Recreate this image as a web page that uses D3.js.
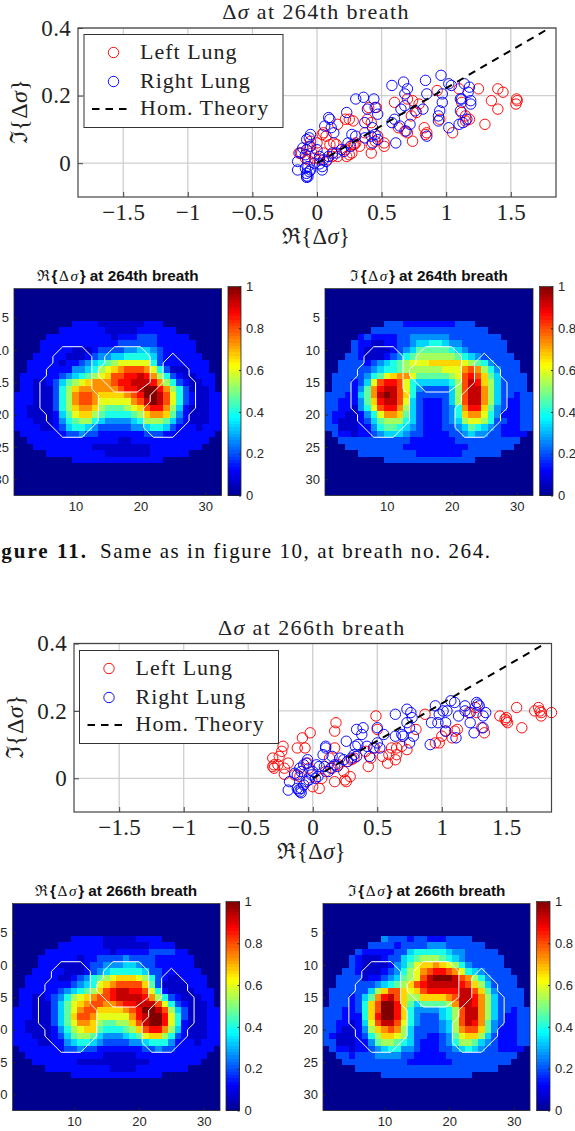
<!DOCTYPE html>
<html><head><meta charset="utf-8">
<script src="https://cdn.jsdelivr.net/npm/d3@7"></script>
<style>html,body{margin:0;padding:0;background:#fff;overflow:hidden}svg{display:block}</style>
</head><body><div id="c"></div>
<script>
const xTicks=[-1.5,-1,-0.5,0,0.5,1,1.5], yTicks=[0,0.2,0.4];
const homTheory=[[0,0],[1.8,0.4]];
const legendLabels=["Left Lung","Right Lung","Hom. Theory"];
const left264=[[1.25,.22],[1.4,.22],[1.44,.21],[1.35,.185],[1.4,.16],[1.55,.185],[1.54,.175],[1.545,.19],[1.3,.115],[1.05,.09],[.93,.215],[1.1,.22],[1.12,.18],[1.12,.15],[1.15,.14],[1.18,.13],[1.15,.125],[.95,.13],[.83,.105],[.84,.085],[.85,.09],[.74,.065],[.7,.09],[.68,.095],[.63,.105],[.6,.18],[.7,.19],[.74,.185],[.79,.175],[.77,.15],[.73,.14],[.52,.05],[.52,.06],[.42,.03],[.42,.055],[.46,.165],[.4,.165],[.39,.13],[.42,.12],[.37,.09],[.28,.125],[.25,.13],[.22,.13],[.16,.115],[.29,.055],[.3,.06],[.27,.03],[.25,.025],[.23,.02],[.22,.04],[.16,.02],[.13,.06],[.1,.055],[.07,.08],[.05,.09],[.04,.085],[.12,.02],[.05,.03],[.02,.01],[-.02,.015],[-.04,.03],[-.05,.065],[-.06,.05],[-.09,.015],[-.12,.03],[-.14,.03],[-.07,.01],[0,.06],[.08,.01],[.15,.055],[.45,.065],[.47,.08],[.28,.055],[.33,.05]];
const right264=[[.96,.26],[.84,.245],[1.02,.235],[1.04,.23],[1.14,.235],[1.18,.225],[1.17,.21],[1.12,.19],[1.11,.19],[.67,.24],[.58,.23],[.7,.22],[.68,.205],[.85,.205],[.97,.205],[1.19,.185],[1.19,.175],[.97,.18],[.95,.155],[.94,.14],[.94,.125],[1.02,.105],[1.11,.155],[1.13,.12],[1.16,.13],[1.1,.115],[.82,.16],[.76,.155],[.65,.16],[.68,.17],[.58,.12],[.6,.13],[.64,.11],[.72,.115],[.69,.095],[.61,.06],[.85,.08],[.3,.19],[.36,.195],[.44,.19],[.45,.165],[.39,.16],[.47,.145],[.37,.12],[.43,.105],[.23,.15],[.09,.135],[.1,.13],[.06,.11],[.11,.105],[.13,.09],[.27,.085],[.3,.08],[.42,.08],[.45,.085],[.47,.07],[.43,.06],[.37,.075],[.26,.05],[.24,.06],[.21,.035],[.12,.03],[.15,.03],[.09,.02],[.05,.01],[.07,.005],[.02,-.002],[-.05,.085],[-.06,.075],[-.08,.07],[-.05,.05],[-.08,.04],[-.11,.045],[-.13,.03],[-.09,.025],[-.15,.005],[-.15,-.02],[-.09,-.015],[-.07,-.01],[-.06,-.025],[-.08,-.03],[-.08,-.038],[-.08,-.042],[-.07,-.04],[-.05,-.02],[-.02,0],[.04,-.01],[.04,-.02],[0,.04],[.02,.02],[.19,.04]];
const left266=[[1.85,.195],[1.75,.21],[1.76,.2],[1.72,.2],[1.77,.195],[1.77,.185],[1.58,.21],[1.62,.15],[1.45,.185],[1.49,.175],[1.5,.18],[1.51,.165],[1.5,.17],[1.33,.135],[1.31,.15],[1.27,.195],[1.26,.21],[1.21,.195],[1.12,.145],[1.08,.12],[1.1,.14],[1,.125],[1.03,.14],[.95,.105],[.98,.105],[.87,.19],[.8,.145],[.73,.085],[.69,.095],[.65,.09],[.65,.07],[.64,.055],[.58,.045],[.59,.07],[.61,.09],[.54,.065],[.49,.185],[.5,.145],[.48,.09],[.41,.08],[.45,.06],[.43,.035],[.18,.165],[.17,.14],[.17,.09],[.17,-.01],[.24,.02],[.25,-.005],[.26,-.01],[.29,.005],[.27,.05],[.05,-.03],[0,-.025],[-.02,.135],[-.08,.12],[-.06,.09],[-.12,.09],[-.23,.095],[-.24,.08],[-.26,.065],[-.31,.06],[-.3,.04],[-.31,.035],[-.3,.03],[-.27,.04],[-.19,.045],[-.22,.03],[-.22,.012],[-.14,.01],[-.1,.005],[-.03,.03],[-.04,.045],[.1,.02],[.15,.03],[.2,.04],[.32,.06],[.3,.055],[.13,.06],[.07,0]];
const right266=[[1.07,.23],[.95,.215],[1.1,.225],[1.18,.215],[1.27,.225],[1.28,.22],[1.29,.215],[1.01,.2],[1.04,.2],[.98,.19],[1.18,.2],[1.13,.185],[1.22,.195],[1.34,.195],[1.32,.185],[1.22,.165],[1.03,.165],[.92,.165],[.97,.165],[1.32,.15],[1.25,.135],[1.11,.12],[1.03,.14],[.91,.1],[.64,.19],[.73,.205],[.76,.195],[.77,.18],[.73,.165],[.75,.15],[.5,.15],[.39,.15],[.34,.145],[.38,.13],[.55,.13],[.64,.125],[.69,.13],[.7,.125],[.78,.125],[.75,.105],[.26,.11],[.35,.1],[.33,.095],[.42,.095],[.5,.105],[.47,.09],[.52,.09],[.44,.065],[.1,.095],[.1,.09],[.08,.07],[.15,.065],[.21,.06],[.24,.055],[.27,.05],[.32,.07],[.34,.065],[.3,.06],[.17,.04],[.19,.035],[.14,.03],[.12,.02],[.09,.035],[.05,.035],[.03,.04],[-.04,.055],[-.05,.045],[-.07,.04],[-.1,.03],[-.09,.02],[-.14,.015],[-.12,.01],[-.18,-.01],[-.19,-.035],[-.12,-.03],[-.11,-.035],[-.1,-.04],[-.09,-.03],[-.07,-.02],[-.05,-.01],[-.03,-.005],[.02,0],[.04,.005],[0,.02],[-.01,.01],[-.09,-.043]];
// heat-map cells, rows 6..27, columns 1..32; each hex digit is a value in fifteenths of 1
const firstRow=6;
const re264=[
"00000 00002 22211 11111 22200 00000 00","00000 00222 22221 11112 22222 00000 00","00000 22222 22222 12223 33222 22000 00","00002 22222 22222 23333 33222 22200 00",
"00002 22221 11233 33445 54322 22200 00","00022 22211 12344 55666 65322 22220 00","00222 22122 34567 89999 96322 22222 00","00222 22224 45689 abccc b9631 11222 00",
"02222 22345 6789a ccdde db863 21122 20","02211 23578 9abbb cddee edb86 32112 20","02211 1368a bbbbb bcdde ffdb8 63111 20","22211 1368b ccbaa aabcd ffec9 63211 22",
"22211 1368b ccb99 999bc efec9 63211 22","22111 1368a bba87 7789a cddb8 52111 22","22111 12579 aa876 66678 abba7 42111 22","22211 12467 88654 44456 88875 32111 22",
"22221 12356 65433 33344 56653 22212 22","02222 22233 43322 22222 33322 22222 20","00222 22222 22222 21122 22222 22222 00","00022 22222 22111 11111 12222 22220 00",
"00000 22222 22221 11111 12222 22000 00","00000 00002 22222 22222 22200 00000 00"];
const im264=[
"00000 00003 33222 22222 33300 00000 00","00000 00333 33333 33333 33333 00000 00","00000 23222 23344 44443 33333 33000 00","00003 22112 23345 56654 43333 33300 00",
"00003 21111 23457 77776 54333 33300 00","00033 21112 34678 88888 76543 33330 00","00333 32345 67899 9aaaa a9876 43333 00","00333 33456 67888 88899 9bcb8 64333 00",
"03333 34679 abb97 77778 9cdca 75333 30","03332 359cd dc965 55556 8ceda 85333 30","03332 47bde ec964 33335 8ceeb 85333 30","33322 57bef eca63 33335 8ceeb 85332 33",
"33222 47ade ec953 22235 8ceeb 85322 33","33221 469cd db853 22234 6bdda 74322 33","32211 2469b ba753 22234 6abb9 64222 33","32111 23578 88653 22234 58998 63322 33",
"33111 22467 76543 22233 45765 43222 33","03221 22345 55433 22223 34544 33222 20","00333 33333 33322 22222 33333 33333 00","00033 33333 33222 22222 22333 33330 00",
"00000 33333 33332 22222 23333 33000 00","00000 00003 33333 33333 33300 00000 00"];
const re266=[
"00000 00002 22221 11112 22200 00000 00","00000 00222 22221 11111 12222 00000 00","00000 22222 22222 12222 23333 22000 00","00002 22222 12233 33433 33222 22200 00",
"00002 22111 12334 44554 33222 22200 00","00022 22211 12345 66666 53322 22220 00","00222 22112 34678 9aaa9 86321 12222 00","00222 22223 4569a bcccc a7311 11222 00",
"02222 22345 678ac deedd c9621 11122 20","02211 23468 9abcc deeee db863 21112 20","02211 13579 abccb bcdde eec96 32111 20","22211 13579 bccaa aabcd ffec8 53111 22",
"22211 1357a ccb99 999bd effd9 63111 22","22111 13579 bba87 788ac effd9 62111 22","22111 12468 9aa76 6678a cddb8 52111 22","22211 12357 88754 44567 9aa86 32111 22",
"22221 12245 66543 33344 56664 22212 22","02222 22233 43322 22222 33433 22222 20","00222 22222 22221 11112 22222 22222 00","00022 22222 11111 11111 12222 22220 00",
"00000 22222 22222 11112 22222 22000 00","00000 00002 22222 22222 22200 00000 00"];
const im266=[
"00000 00004 33323 32223 33300 00000 00","00000 00333 32333 34443 33333 00000 00","00000 32222 23356 66665 44333 33000 00","00003 21112 33567 88876 54333 33300 00",
"00003 21111 24579 aaba9 86433 33300 00","00033 21112 34689 bcddc b9654 33330 00","00333 31223 45789 cefff ecb86 43333 00","00333 33345 678ac deeee edca8 53333 00",
"03333 3358a cca9a cdddd deeca 74333 30","03332 357bd eca88 aaaab ceedb 85333 30","03332 36acf fda75 77778 beedb 85333 30","33322 36acf fda64 44456 8ceeb 85332 33",
"33322 26adf fda64 33356 8ceeb 85322 33","33221 259ce ec964 33345 8cedb 74322 33","33211 248ab cb853 33345 8bcca 74222 33","32111 2368a a9853 32234 79aa8 53222 33",
"33111 22478 87653 22234 68875 43222 33","03221 22345 66443 22233 45654 33222 20","00332 33344 44332 22223 33333 33333 00","00033 33333 33322 22222 33333 33330 00",
"00000 33333 33333 33333 33333 33000 00","00000 00003 33333 33333 33300 00000 00"];
const lungLeft=[[8,9.5],[11,9.5],[12.5,11],[12.5,16],[13.5,17],[13.5,21],[11,23.5],[8,23.5],[5.5,21],[5.5,20],[4.5,19],[4.5,15],[5.5,14],[5.5,13],[6.5,12],[6.5,11]];
const lungMid=[[16,9.5],[20,9.5],[21.5,11],[21.5,15],[19.5,16.5],[16,16.5],[13.5,14],[13.5,13],[14.5,12],[14.5,11]];
const lungRight=[[25,10.5],[27.5,13],[27.5,14],[28.5,15],[28.5,19],[27.5,20],[27.5,21],[25,23.5],[22,23.5],[20.5,22],[20.5,19],[21.5,18],[21.5,17],[23.5,15],[23.5,12]];
const heatTicksY=[5,10,15,20,25,30], heatTicksX=[10,20,30], cbTicks=[0,.2,.4,.6,.8,1];

const W=575,H=1131;
const svg=d3.select("#c").append("svg").attr("width",W).attr("height",H);
const SERIF="'Liberation Serif','DejaVu Serif',serif", SANS="'Liberation Sans',Arial,sans-serif";
const jet=d3.scaleLinear().domain([0,.125,.375,.625,.875,1]).range(["#00008f","#0000ff","#00ffff","#ffff00","#ff0000","#800000"]).clamp(true);
const fmt=v=>String(v).replace("-","\u2212");
const R=5.2;

function scatter(o){
  const g=svg.append("g");
  const x=d3.scaleLinear().domain([-1.85,1.85]).range([o.l,o.r]);
  const y=d3.scaleLinear().domain([-.1,.4]).range([o.b,o.t]);
  const grid=g.append("g").attr("stroke","#cfcfcf").attr("stroke-width",1.3);
  xTicks.forEach(v=>grid.append("line").attr("x1",x(v)).attr("x2",x(v)).attr("y1",o.t).attr("y2",o.b));
  yTicks.forEach(v=>grid.append("line").attr("y1",y(v)).attr("y2",y(v)).attr("x1",o.l).attr("x2",o.r));
  const ax=g.append("g").attr("transform",`translate(0,${o.b})`).call(d3.axisBottom(x).tickValues(xTicks).tickSize(-5).tickPadding(7).tickFormat(fmt));
  const ay=g.append("g").attr("transform",`translate(${o.l},0)`).call(d3.axisLeft(y).tickValues(yTicks).tickSize(-5).tickPadding(7).tickFormat(fmt));
  [ax,ay].forEach(a=>{a.select(".domain").remove();a.selectAll("line").attr("stroke","#444");
    a.selectAll("text").attr("font-family",SERIF).attr("font-size",23).attr("letter-spacing",.3).attr("fill","#222");});
  const c=g.append("g");
  const circles=(d,col)=>c.append("g").selectAll("circle").data(d).join("circle").attr("cx",p=>x(p[0])).attr("cy",p=>y(p[1])).attr("r",R).attr("fill","none").attr("stroke",col).attr("stroke-width",.95);
  circles(o.left,"#ff0000");circles(o.right,"#0000ff");
  const line=d3.line().x(p=>x(p[0])).y(p=>y(p[1]));
  g.append("path").attr("d",line(homTheory)).attr("fill","none").attr("stroke","#000").attr("stroke-width",2).attr("stroke-dasharray","7.5 6");
  g.append("rect").attr("x",o.l).attr("y",o.t).attr("width",o.r-o.l).attr("height",o.b-o.t).attr("fill","none").attr("stroke","#444").attr("stroke-width",1.2);
  const tt=g.append("text").attr("x",(o.l+o.r)/2-1).attr("y",o.titleY).attr("text-anchor","middle").attr("font-family",SERIF).attr("font-size",22).attr("letter-spacing",1.4).attr("fill","#222");
  tt.append("tspan").text("\u0394");tt.append("tspan").attr("font-style","italic").text("\u03c3");tt.append("tspan").text(" at "+o.n+"th breath");
  const xl=g.append("text").attr("x",(o.l+o.r)/2-1).attr("y",o.xlY).attr("text-anchor","middle").attr("font-family",SERIF).attr("font-size",22.5).attr("letter-spacing",.5).attr("fill","#222");
  xl.append("tspan").text("\u211c{\u0394");xl.append("tspan").attr("font-style","italic").text("\u03c3");xl.append("tspan").text("}");
  const yl=g.append("text").attr("transform",`translate(${o.ylX},${(o.t+o.b)/2-1}) rotate(-90)`).attr("text-anchor","middle").attr("font-family",SERIF).attr("font-size",24).attr("letter-spacing",.4).attr("fill","#222");
  yl.append("tspan").text("\u2111{\u0394");yl.append("tspan").attr("font-style","italic").text("\u03c3");yl.append("tspan").text("}");
  const L=o.leg;
  const lg=g.append("g");
  lg.append("rect").attr("x",L.x).attr("y",L.y).attr("width",L.w).attr("height",L.h).attr("fill","#fff").attr("stroke","#333").attr("stroke-width",1);
  const rowY=[L.y+18,L.y+47,L.y+74.5];
  lg.append("circle").attr("cx",L.x+29.5).attr("cy",rowY[0]).attr("r",R).attr("fill","none").attr("stroke","#f00").attr("stroke-width",.95);
  lg.append("circle").attr("cx",L.x+29.5).attr("cy",rowY[1]).attr("r",R).attr("fill","none").attr("stroke","#00f").attr("stroke-width",.95);
  lg.append("line").attr("x1",L.x+8).attr("x2",L.x+45).attr("y1",rowY[2]).attr("y2",rowY[2]).attr("stroke","#000").attr("stroke-width",2).attr("stroke-dasharray","7.5 6");
  legendLabels.forEach((s,i)=>lg.append("text").attr("x",L.x+56).attr("y",rowY[i]+6).attr("font-family",SERIF).attr("font-size",22).attr("letter-spacing",1).attr("fill","#222").text(s));
}
function heat(o){
  const g=svg.append("g");
  const x=d3.scaleLinear().domain([.5,32.5]).range([o.l,o.r]);
  const y=d3.scaleLinear().domain([.5,32.5]).range([o.t,o.b]);
  const cells=[];
  for(let r=1;r<=32;r++){
    const s=(o.data[r-firstRow]||"").replace(/ /g,"");
    for(let c=1;c<=32;c++){cells.push({r,c,v:s[c-1]?parseInt(s[c-1],16)/15:0});}
  }
  const clipId="clip"+o.part.charCodeAt(0)+o.n;
  g.append("clipPath").attr("id",clipId).append("rect").attr("x",o.l).attr("y",o.t).attr("width",o.r-o.l).attr("height",o.b-o.t);
  g.append("g").attr("clip-path",`url(#${clipId})`).append("g").style("filter","blur(0.5px)").attr("shape-rendering","crispEdges").selectAll("rect").data(cells).join("rect")
    .attr("x",d=>x(d.c-.5)).attr("y",d=>y(d.r-.5)).attr("width",x(2)-x(1)+.4).attr("height",y(2)-y(1)+.4).attr("fill",d=>jet(d.v));
  const line=d3.line().x(p=>x(p[0])).y(p=>y(p[1])).curve(d3.curveLinearClosed);
  [lungLeft,lungMid,lungRight].forEach(p=>g.append("path").attr("d",line(p)).attr("fill","none").attr("stroke","#fff").attr("stroke-width",1));
  const ax=g.append("g").attr("transform",`translate(0,${o.b})`).call(d3.axisBottom(x).tickValues(heatTicksX).tickSize(-3).tickPadding(6));
  const ay=g.append("g").attr("transform",`translate(${o.l},0)`).call(d3.axisLeft(y).tickValues(heatTicksY).tickSize(-3).tickPadding(5));
  [ax,ay].forEach(a=>{a.select(".domain").remove();a.selectAll("line").attr("stroke","#262626");
    a.selectAll("text").attr("font-family",SANS).attr("font-size",13).attr("fill","#262626");});
  g.append("rect").attr("x",o.l).attr("y",o.t).attr("width",o.r-o.l).attr("height",o.b-o.t).attr("fill","none").attr("stroke","#262626").attr("stroke-width",.8);
  const tt=g.append("text").attr("x",(o.l+o.r)/2+o.tdx).attr("y",o.t-8).attr("text-anchor","middle").attr("font-family",SANS).attr("font-weight","bold").attr("font-size",15.3).attr("fill","#111");
  const m=s=>tt.append("tspan").attr("font-weight","normal").attr("font-family",SERIF).attr("letter-spacing",1.6);
  m().text(o.part);
  tt.append("tspan").attr("letter-spacing",1.6).text("{");m().text("\u0394");
  m().attr("font-style","italic").text("\u03c3");
  tt.append("tspan").text("} at "+o.n+"th breath");
  const cy=d3.scaleLinear().domain([0,1]).range([o.b,o.t-2]);
  const levels=d3.range(64).map(i=>i/64);
  g.append("g").attr("shape-rendering","crispEdges").selectAll("rect").data(levels).join("rect")
    .attr("x",o.cl).attr("width",o.cr-o.cl).attr("y",d=>cy(d+1/64)).attr("height",cy(0)-cy(1/64)+.5).attr("fill",d=>jet(d+1/128));
  const ac=g.append("g").attr("transform",`translate(${o.cr},0)`).call(d3.axisRight(cy).tickValues(cbTicks).tickSize(-2).tickPadding(5).tickFormat(d=>String(d)));
  ac.select(".domain").remove();ac.selectAll("line").attr("stroke","#262626");
  ac.selectAll("text").attr("font-family",SANS).attr("font-size",13).attr("fill","#262626");
  g.append("rect").attr("x",o.cl).attr("y",o.t-2).attr("width",o.cr-o.cl).attr("height",o.b-o.t+2).attr("fill","none").attr("stroke","#262626").attr("stroke-width",.8);
}
scatter({l:78,r:556,t:28,b:197,n:264,left:left264,right:right264,titleY:19,xlY:244,ylX:27,leg:{x:84,y:34.5,w:199,h:93}});
scatter({l:74,r:551.5,t:643.5,b:812,n:266,left:left266,right:right266,titleY:635,xlY:859,ylX:23,leg:{x:79.5,y:650.5,w:199,h:93}});
heat({l:14,r:221.5,t:288.5,b:495.5,cl:228,cr:241,n:264,part:"\u211c",data:re264,tdx:0});
heat({l:325,r:533,t:288.5,b:495.5,cl:539.5,cr:553,n:264,part:"\u2111",data:im264,tdx:0});
heat({l:12.5,r:220,t:903.5,b:1110.5,cl:226,cr:239.5,n:266,part:"\u211c",data:re266,tdx:0});
heat({l:323,r:530,t:903.5,b:1110.5,cl:536.5,cr:550,n:266,part:"\u2111",data:im266,tdx:0});
const capY=558;
svg.append("text").attr("x",88).attr("y",capY).attr("text-anchor","end").attr("font-family",SERIF).attr("font-weight","bold").attr("font-size",21).attr("letter-spacing",2).attr("fill","#111").text("Figure 11.");
svg.append("text").attr("x",100).attr("y",capY).attr("font-family",SERIF).attr("font-size",21).attr("letter-spacing",1.55).attr("fill","#111").text("Same as in figure 10, at breath no. 264.");
</script></body></html>
